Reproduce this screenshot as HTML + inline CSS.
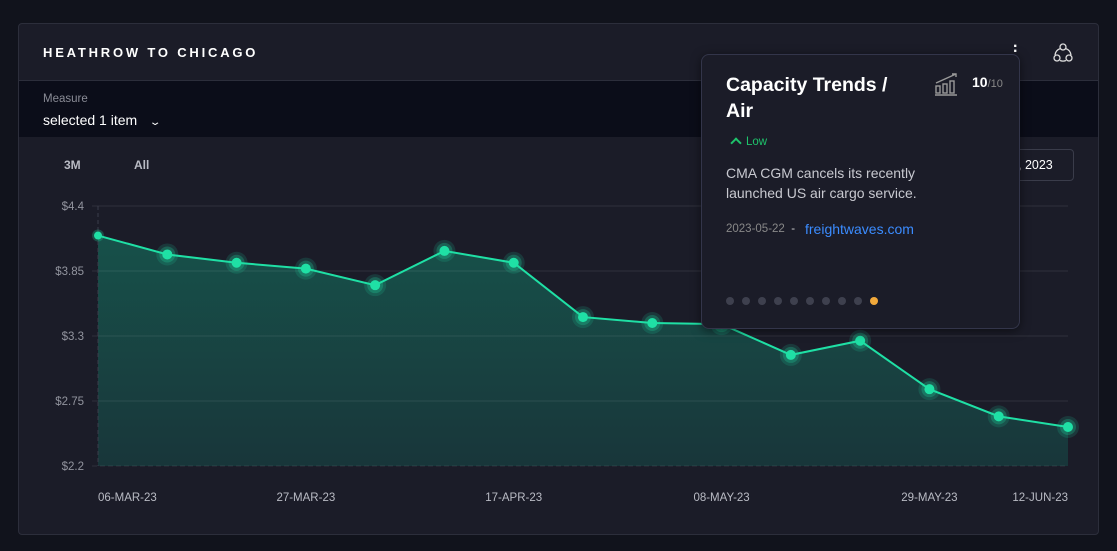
<!DOCTYPE html>
<html><head><meta charset="utf-8">
<style>
*{box-sizing:border-box;margin:0;padding:0}
body{width:1117px;height:551px;background:#11131c;font-family:"Liberation Sans",sans-serif;position:relative;overflow:hidden}
#card{position:absolute;left:18px;top:23px;width:1081px;height:512px;background:#1b1c28;border:1px solid #2c2e3b;border-radius:4px;overflow:hidden}
#head{position:absolute;left:0;top:0;width:100%;height:57px;border-bottom:1px solid #2c2e3b}
#title{position:absolute;left:24px;top:21px;color:#fff;font-weight:bold;font-size:13px;letter-spacing:2.8px}
#measure{position:absolute;left:0;top:57px;width:100%;height:56px;background:#0b0d19}
.lbl{position:absolute;color:#8a8c96;font-size:12px}
.btn{position:absolute;color:#b9bbc4;font-size:12px;font-weight:bold}
#popup{position:absolute;left:701px;top:54px;width:319px;height:275px;background:#1b1c28;border:1px solid #33354a;border-radius:8px;box-shadow:0 2px 10px rgba(0,0,0,.5)}
</style></head><body>
<div id="card">
 <div id="head">
  <div id="title">HEATHROW TO CHICAGO</div>
  <div style="position:absolute;left:994px;top:20px;width:4px;color:#fff;font-size:16px;line-height:5px;font-weight:bold">·<br>·</div>
  <svg style="position:absolute;left:1033px;top:18px" width="22" height="22" viewBox="0 0 22 22" fill="none" stroke="#ddd" stroke-width="1.3"><circle cx="11" cy="5" r="3"/><circle cx="5" cy="16" r="3"/><circle cx="17" cy="16" r="3"/><path d="M8.5 6.5 A8 8 0 0 0 3 13 M13.5 6.5 A8 8 0 0 1 19 13 M8 18.5 A8 8 0 0 0 14 18.5"/></svg>
 </div>
 <div id="measure">
  <div class="lbl" style="left:24px;top:12px;font-size:11.5px">Measure</div>
  <div style="position:absolute;left:24px;top:31px;color:#fff;font-size:14px">selected 1 item <span style="margin-left:10px;font-size:10px;display:inline-block;transform:scaleX(1.5)">⌄</span></div>
 </div>
 <div class="btn" style="left:45px;top:134px">3M</div>
 <div class="btn" style="left:115px;top:134px">All</div>
 <div style="position:absolute;left:940px;top:125px;width:115px;height:32px;border:1px solid #3a3c4a;border-radius:4px;color:#fff;font-size:12.5px;padding:8px 0 0 58px">, 2023</div>
</div>
<svg id="chart" width="1117" height="551" style="position:absolute;left:0;top:0"><defs><linearGradient id="gf" x1="0" y1="0" x2="0" y2="1"><stop offset="0" stop-color="#17514a"/><stop offset="1" stop-color="#18363a"/></linearGradient></defs></svg>
<div id="popup">
 <div style="position:absolute;left:24px;top:17px;color:#fff;font-weight:bold;font-size:19.5px;line-height:26px">Capacity Trends /<br>Air</div>
 <svg style="position:absolute;left:233px;top:17px" width="24" height="24" viewBox="0 0 24 24" fill="none" stroke="#999" stroke-width="1.4"><rect x="1" y="14" width="4" height="7"/><rect x="8" y="12" width="4" height="9"/><rect x="15" y="9" width="4" height="12"/><path d="M1 11 L21 2 M17 2 H21 V5 M0 23 H22"/></svg>
 <div style="position:absolute;left:270px;top:19px;color:#fff;font-size:14px;font-weight:bold">10<span style="color:#888;font-size:11px;font-weight:normal">/10</span></div>
 <div style="position:absolute;left:30px;top:81px;color:#1ec36b;font-size:11.5px"><span style="display:inline-block;width:8px;height:8px;border-left:2px solid #1ec36b;border-top:2px solid #1ec36b;transform:rotate(45deg);margin-right:6px;position:relative;top:2px"></span>Low</div>
 <div style="position:absolute;left:24px;top:108px;color:#c8c9d0;font-size:14px;line-height:20px">CMA CGM cancels its recently<br>launched US air cargo service.</div>
 <div style="position:absolute;left:24px;top:168px;color:#888;font-size:11.5px">2023-05-22 &nbsp;<span style="color:#ccc">-</span>&nbsp;</div>
 <div style="position:absolute;left:103px;top:166px;color:#3b8cff;font-size:14px">freightwaves.com</div>
 <div id="dots" style="position:absolute;left:24px;top:242px"></div>
</div>
<script>
const dates=["06-MAR-23","13-MAR-23","20-MAR-23","27-MAR-23","03-APR-23","10-APR-23","17-APR-23","24-APR-23","01-MAY-23","08-MAY-23","15-MAY-23","22-MAY-23","29-MAY-23","05-JUN-23","12-JUN-23"];
const values=[4.15,3.99,3.92,3.87,3.73,4.02,3.92,3.46,3.41,3.40,3.14,3.26,2.85,2.62,2.53];
const yTicks=[2.2,2.75,3.3,3.85,4.4];
const yTickLabels=["$2.2","$2.75","$3.3","$3.85","$4.4"];
const xLabelIdx=[0,3,6,9,12,14];
const NS="http://www.w3.org/2000/svg";
const svg=document.getElementById('chart');
const x0=98,x1=1068,yTop=206,yBot=466,vMin=2.2,vMax=4.4;
const X=i=>x0+(x1-x0)*i/(dates.length-1);
const Y=v=>yBot-(v-vMin)/(vMax-vMin)*(yBot-yTop);
function mk(t,a){const e=document.createElementNS(NS,t);for(const k in a)e.setAttribute(k,a[k]);svg.appendChild(e);return e;}
let d='M'+X(0)+','+yBot;values.forEach((v,i)=>d+=' L'+X(i)+','+Y(v));d+=' L'+X(values.length-1)+','+yBot+'Z';
const area=mk('path',{d:d,fill:'url(#gf)'});


yTicks.forEach((t,i)=>{
 const g=mk('line',{x1:92,x2:1068,y1:Y(t),y2:Y(t),stroke:'#ffffff','stroke-opacity':0.09,'stroke-width':1,'stroke-dasharray':i==0?'5 3':'none'});
 
 
 const l=mk('text',{x:84,y:Y(t)+4,'text-anchor':'end',fill:'#92949e','font-size':11.5,'font-family':'Liberation Sans, sans-serif'});
 l.textContent=yTickLabels[i];
 
 
});
const vl=mk('line',{x1:x0,x2:x0,y1:yTop,y2:yBot,stroke:'#3a3c4a','stroke-dasharray':'4 3'});


const line=mk('polyline',{points:values.map((v,i)=>X(i)+','+Y(v)).join(' '),fill:'none',stroke:'#1fe0a5','stroke-width':2});


values.forEach((v,i)=>{
 const h=mk('circle',{cx:X(i),cy:Y(v),r:i==0?6:11,fill:'#1fe0a5','fill-opacity':i==0?0.25:0.15});
 
 
 if(i>0){
  const h2=mk('circle',{cx:X(i),cy:Y(v),r:8,fill:'#1fe0a5','fill-opacity':0.25});
  
  
 }
 const c=mk('circle',{cx:X(i),cy:Y(v),r:i==0?4:5,fill:'#1fe0a5'});
 
 
});
xLabelIdx.forEach((i,k)=>{
 const anchor=k==0?'start':(i==dates.length-1?'end':'middle');
 const t=mk('text',{x:X(i),y:501,'text-anchor':anchor,fill:'#b9bbc4','font-size':11.5,'font-family':'Liberation Sans, sans-serif'});
 t.textContent=dates[i];
 
 
});
const dots=document.getElementById('dots');
for(let i=0;i<10;i++){
 const s=document.createElement('span');
 
 
 s.style.cssText='position:absolute;top:0;left:'+(i*16)+'px;width:8px;height:8px;border-radius:50%;background:'+(i==9?'#f2a93b':'#3e404e');
 dots.appendChild(s);
}
</script>
</body></html>
